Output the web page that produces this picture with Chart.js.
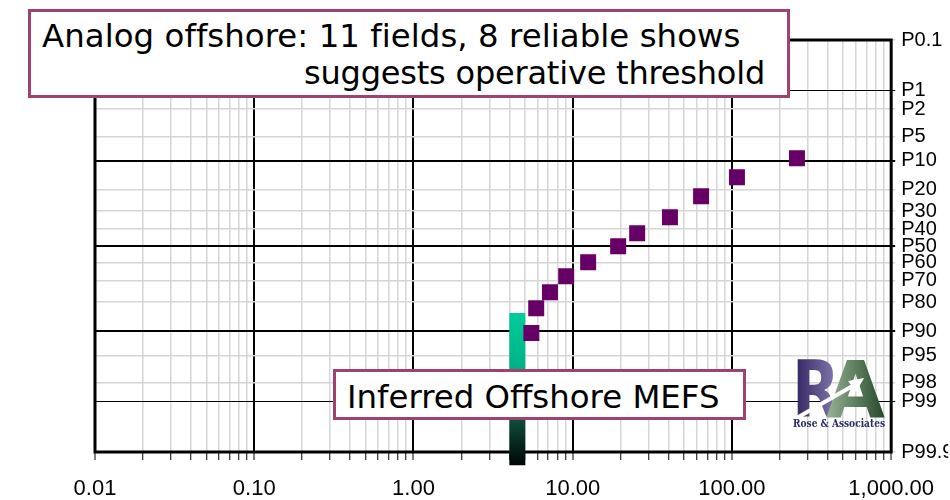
<!DOCTYPE html>
<html>
<head>
<meta charset="utf-8">
<script src="https://cdn.jsdelivr.net/npm/chart.js@4.4.1/dist/chart.umd.min.js"></script>
<style>
    html, body { margin: 0; padding: 0; background: #fff; }
    #wrap { position: relative; width: 950px; height: 500px; overflow: hidden; background: #fff; }
    #chart { position: absolute; left: 0; top: 0; }
    .note {
        position: absolute; box-sizing: border-box; background: #fff;
        border: 3px solid #a0426f; font-family: 'DejaVu Sans', Verdana, sans-serif;
        font-size: 32.4px; line-height: 37px; color: #000;
    }
    .note span { position: absolute; white-space: nowrap; }
    #logo { position: absolute; left: 790px; top: 356px; }
</style>
</head>
<body>
<div id="wrap">
    <canvas id="chart" width="950" height="500"></canvas>
    <div class="note" style="left:28px;top:9px;width:762px;height:89px">
        <span style="left:11px;top:6px;letter-spacing:0.05px">Analog offshore: 11 fields, 8 reliable shows</span>
        <span style="right:22px;top:43px;font-size:32px;letter-spacing:-0.2px">suggests operative threshold</span>
    </div>
    <div class="note" style="left:333px;top:369px;width:413px;height:51px">
        <span style="left:11px;top:7px">Inferred Offshore MEFS</span>
    </div>
    <svg id="logo" width="100" height="76" viewBox="0 0 100 76">
        <defs>
            <linearGradient id="gR" x1="0" y1="0" x2="1" y2="0">
                <stop offset="0" stop-color="#2e1f5c"/>
                <stop offset="1" stop-color="#8a80b4"/>
            </linearGradient>
            <linearGradient id="gA" x1="0" y1="0" x2="1" y2="0">
                <stop offset="0" stop-color="#9ab494"/>
                <stop offset="1" stop-color="#23482a"/>
            </linearGradient>
        </defs>
        <text x="2" y="61" font-family="DejaVu Sans" font-weight="bold" font-size="78" fill="url(#gR)" textLength="48" lengthAdjust="spacingAndGlyphs">R</text>
        <text x="36" y="61" font-family="DejaVu Sans" font-weight="bold" font-size="78" fill="url(#gA)" textLength="59" lengthAdjust="spacingAndGlyphs">A</text>
        <line x1="5" y1="63" x2="66" y2="28" stroke="#fff" stroke-width="4"/>
        <polygon points="74,22 58,25 66,36" fill="#fff"/>
        <text x="3" y="71" font-family="DejaVu Serif" font-weight="bold" font-size="10.5" fill="#2a2a66" textLength="92" lengthAdjust="spacingAndGlyphs">Rose &amp; Associates</text>
    </svg>
</div>
<script>
// field sizes (x) and cumulative plotting position in percent (y)
const fieldSizes = [256, 107.5, 64, 40.8, 25.4, 19.3, 12.5, 9.1, 7.2, 5.9, 5.5];
const fieldPct = [9.4, 15.1, 22.8, 33.3, 42.4, 50.1, 59.6, 67.5, 75.6, 82.5, 90.4];

// inferred minimum economic field size bar
const mefsSize = 4.49;
const mefsPct = [84.3, 99.95];

const pctTicks = [0.1, 1, 2, 5, 10, 20, 30, 40, 50, 60, 70, 80, 90, 95, 98, 99, 99.9];
const pctMajor = [10, 50, 90];
const pctMid = [1, 99];
const xDecades = [0.01, 0.1, 1, 10, 100, 1000];
const xLabels = ['0.01', '0.10', '1.00', '10.00', '100.00', '1,000.00'];

// inverse normal cdf (Acklam), used for the probability axis
function probit(p) {
    const a = [-3.969683028665376e+01, 2.209460984245205e+02, -2.759285104469687e+02, 1.383577518672690e+02, -3.066479806614716e+01, 2.506628277459239e+00];
    const b = [-5.447609879822406e+01, 1.615858368580409e+02, -1.556989798598866e+02, 6.680131188771972e+01, -1.328068155288572e+01];
    const c = [-7.784894002430293e-03, -3.223964580411365e-01, -2.400758277161838e+00, -2.549732539343734e+00, 4.374664141464968e+00, 2.938163982698783e+00];
    const d = [7.784695709041462e-03, 3.224671290700398e-01, 2.445134137142996e+00, 3.754408661907416e+00];
    const pl = 0.02425;
    let q, r;
    if (p < pl) {
        q = Math.sqrt(-2 * Math.log(p));
        return (((((c[0] * q + c[1]) * q + c[2]) * q + c[3]) * q + c[4]) * q + c[5]) / ((((d[0] * q + d[1]) * q + d[2]) * q + d[3]) * q + 1);
    }
    if (p > 1 - pl) {
        q = Math.sqrt(-2 * Math.log(1 - p));
        return -(((((c[0] * q + c[1]) * q + c[2]) * q + c[3]) * q + c[4]) * q + c[5]) / ((((d[0] * q + d[1]) * q + d[2]) * q + d[3]) * q + 1);
    }
    q = p - 0.5;
    r = q * q;
    return (((((a[0] * r + a[1]) * r + a[2]) * r + a[3]) * r + a[4]) * r + a[5]) * q / (((((b[0] * r + b[1]) * r + b[2]) * r + b[3]) * r + b[4]) * r + 1);
}
const z = (pct) => probit(pct / 100);

const isDecade = (v) => Math.abs(Math.log10(v) - Math.round(Math.log10(v))) < 1e-6;

const xTicks = [];
for (let k = -2; k <= 2; k++) {
    for (let m = 1; m <= 9; m++) {
        xTicks.push(m * Math.pow(10, k));
    }
}
xTicks.push(1000);

const framePlugin = {
    id: 'frame',
    beforeDatasetsDraw: (chart) => {
        const a = chart.chartArea;
        const ctx = chart.ctx;
        ctx.save();
        ctx.strokeStyle = '#000';
        ctx.lineWidth = 3;
        ctx.strokeRect(a.left, a.top, a.right - a.left, a.bottom - a.top);
        ctx.restore();
    }
};

const mefsGradient = (context) => {
    const chart = context.chart;
    const y = chart.scales.y;
    if (!chart.chartArea || !y) {
        return '#00c896';
    }
    const y0 = y.getPixelForValue(z(mefsPct[0]));
    const y1 = y.getPixelForValue(z(mefsPct[1]));
    const g = chart.ctx.createLinearGradient(0, y0, 0, y1);
    g.addColorStop(0, '#00cc99');
    g.addColorStop(0.35, '#00b386');
    g.addColorStop(0.7, '#0c4d3c');
    g.addColorStop(1, '#000604');
    return g;
};

new Chart(document.getElementById('chart'), {
    type: 'scatter',
    data: {
        datasets: [{
            data: fieldSizes.map((v, i) => ({ x: v, y: z(fieldPct[i]) })),
            pointStyle: 'rect',
            pointRadius: 11.3,
            pointBackgroundColor: '#660066',
            pointBorderWidth: 0,
            order: 1,
        }, {
            data: mefsPct.map((p) => ({ x: mefsSize, y: z(p) })),
            showLine: true,
            borderWidth: 16,
            borderCapStyle: 'butt',
            borderColor: mefsGradient,
            pointRadius: 0,
            clip: false,
            order: 2,
        }],
    },
    options: {
        responsive: false,
        animation: false,
        events: [],
        layout: {
            padding: { left: 95, top: 40, right: 0, bottom: 0 },
        },
        plugins: {
            legend: { display: false },
            tooltip: { enabled: false },
        },
        scales: {
            x: {
                type: 'logarithmic',
                min: 0.01,
                max: 1000,
                afterBuildTicks: (s) => { s.ticks = xTicks.map((v) => ({ value: v })); },
                afterFit: (s) => { s.height = 48; },
                border: { display: false },
                grid: {
                    color: (c) => isDecade(c.tick.value) ? '#000' : '#d6d6d6',
                    lineWidth: (c) => isDecade(c.tick.value) ? 2 : 1.5,
                    tickColor: '#000',
                    tickWidth: 1,
                    tickLength: 8,
                },
                ticks: {
                    autoSkip: false,
                    maxRotation: 0,
                    padding: 16,
                    color: '#000',
                    font: { family: "'Liberation Sans', Arial, sans-serif", size: 22 },
                    callback: (v) => {
                        const i = xDecades.findIndex((d) => Math.abs(d - v) / d < 1e-6);
                        return i >= 0 ? xLabels[i] : '';
                    },
                },
            },
            y: {
                type: 'linear',
                position: 'right',
                reverse: true,
                min: z(pctTicks[0]),
                max: z(pctTicks[pctTicks.length - 1]),
                afterBuildTicks: (s) => { s.ticks = pctTicks.map((p) => ({ value: z(p) })); },
                afterFit: (s) => { s.width = 57; },
                border: { display: false },
                grid: {
                    color: (c) => {
                        const p = pctTicks[c.index];
                        return (pctMajor.includes(p) || pctMid.includes(p)) ? '#000' : '#d6d6d6';
                    },
                    lineWidth: (c) => {
                        const p = pctTicks[c.index];
                        if (pctMajor.includes(p)) return 2;
                        if (pctMid.includes(p)) return 1;
                        return 1.5;
                    },
                    tickLength: 4,
                },
                ticks: {
                    autoSkip: false,
                    padding: 6,
                    color: '#000',
                    font: { family: "'Liberation Sans', Arial, sans-serif", size: 20 },
                    callback: (v, i) => 'P' + pctTicks[i],
                },
            },
        },
    },
    plugins: [framePlugin],
});
</script>
</body>
</html>
